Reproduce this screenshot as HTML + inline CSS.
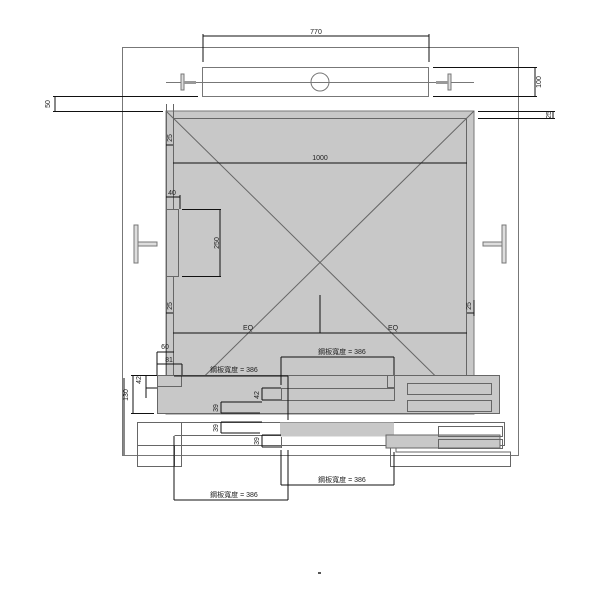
<!DOCTYPE html>
<html><head><style>body{margin:0;background:#fff}svg{display:block}</style></head><body>
<svg width="600" height="600" viewBox="0 0 600 600" xmlns="http://www.w3.org/2000/svg" font-family="Liberation Sans, Noto Sans CJK TC, sans-serif">
<g fill="none" stroke="#777" stroke-width="1">
<rect x="122.5" y="47.5" width="396" height="408"/>
</g>
<rect x="166" y="111" width="308" height="303" fill="#c8c8c8" stroke="#777"/>
<rect x="173.5" y="118.5" width="293" height="289" fill="none" stroke="#666"/>
<g stroke="#666" stroke-width="1" fill="none">
<line x1="166" y1="111" x2="474" y2="414"/>
<line x1="474" y1="111" x2="166" y2="414"/>
<line x1="166.5" y1="104" x2="166.5" y2="414"/>
<line x1="173.5" y1="104" x2="173.5" y2="414"/>
<rect x="166.5" y="209.5" width="12" height="67" fill="#c8c8c8"/>
</g>
<g stroke="#777" fill="none">
<rect x="202.5" y="67.5" width="226" height="29" fill="#fff"/>
<line x1="166" y1="82.5" x2="474" y2="82.5"/>
<circle cx="320" cy="82" r="9"/>
<rect x="181" y="74" width="3" height="16" fill="#ddd"/>
<rect x="184" y="81" width="12" height="3" fill="#999" stroke="none"/>
<rect x="448" y="74" width="3" height="16" fill="#ddd"/>
<rect x="436" y="81" width="12" height="3" fill="#999" stroke="none"/>
<rect x="134" y="225" width="4" height="38" fill="#ddd"/>
<rect x="138" y="242" width="19" height="4" fill="#ddd"/>
<rect x="502" y="225" width="4" height="38" fill="#ddd"/>
<rect x="483" y="242" width="19" height="4" fill="#ddd"/>
</g>
<g stroke="#666" fill="none">
<rect x="157.5" y="375.5" width="342" height="38" fill="#c8c8c8"/>
<rect x="157.5" y="375.5" width="24" height="11"/>
<rect x="281.5" y="388.5" width="113" height="12"/>
<rect x="387.5" y="375.5" width="7" height="12"/>
<rect x="407.5" y="383.5" width="84" height="11"/>
<rect x="407.5" y="400.5" width="84" height="11"/>
<rect x="137.5" y="422.5" width="367" height="23" fill="#fff"/>
<rect x="280" y="422.5" width="114" height="14" fill="#c8c8c8" stroke="none"/>
<rect x="386" y="435" width="114" height="13" fill="#c8c8c8"/>
<rect x="438.5" y="426.5" width="64" height="10"/>
<rect x="438.5" y="439.5" width="64" height="9"/>
<rect x="137.5" y="422.5" width="44" height="44" fill="none"/>
<rect x="174.5" y="445.5" width="7" height="21"/>
<polyline points="390.5,448 390.5,466.5 510.5,466.5 510.5,452 396,452 396,448"/>
<line x1="281.5" y1="437" x2="281.5" y2="448"/>
<line x1="174.5" y1="435.5" x2="281" y2="435.5"/>
</g>
<g stroke="#111" stroke-width="1" fill="none">
<path d="M203 36H429M203 34V62M429 34V62"/>
<path d="M433 67.5H537M433 96.5H537M535 67V97"/>
<path d="M53 96.5H198M53 111.5H163M55 96V112"/>
<path d="M478 111.5H555M478 118.5H555M553 111V119"/>
<path d="M173 163H467"/>
<path d="M166 145H173"/>
<path d="M166 197H180M180 195V209"/>
<path d="M182 209.5H221M182 276.5H221M220 209V277"/>
<path d="M166 313H173M467 313H474M474 300V316"/>
<path d="M173 333H467M320 295V333"/>
<path d="M157 352H174M157 352V375M157 364H182M182 364V375"/>
<path d="M131 375.5H157M131 413.5H154M133 375V414"/>
<path d="M146 375.5V398M146 388H157"/>
<path d="M281 357H394M281 357V385M394 357V375"/>
<path d="M174 376H288M288 376V420"/>
<path d="M262 388V400M262 388H281M262 400H281"/>
<path d="M221 402V413M221 402H262M221 413H260"/>
<path d="M221 422V433M221 422H262M221 433H260"/>
<path d="M262 435V447M262 435H281M262 447H281"/>
<path d="M281 485H394M281 450V485M394 452V485"/>
<path d="M174 500H288M174 436V500M288 450V500"/>
<path d="M124 455V378"/>
</g>
<g font-size="7" fill="#222" text-anchor="middle">
<text x="316" y="34">770</text>
<text x="320" y="160">1000</text>
<text x="248" y="330">EQ</text>
<text x="393" y="330">EQ</text>
<text x="342" y="354">鋼板寬度 = 386</text>
<text x="234" y="372">鋼板寬度 = 386</text>
<text x="342" y="482">鋼板寬度 = 386</text>
<text x="234" y="497">鋼板寬度 = 386</text>
<text x="172" y="195">40</text>
<text x="165" y="349">60</text>
<text x="169" y="362">81</text>
<text transform="translate(541,82) rotate(-90)">100</text>
<text transform="translate(50,104) rotate(-90)">50</text>
<text transform="translate(551,115) rotate(-90)">25</text>
<text transform="translate(172,138) rotate(-90)">25</text>
<text transform="translate(219,243) rotate(-90)">250</text>
<text transform="translate(172,306) rotate(-90)">25</text>
<text transform="translate(471,306) rotate(-90)">25</text>
<text transform="translate(141,380) rotate(-90)">42</text>
<text transform="translate(128,395) rotate(-90)">130</text>
<text transform="translate(259,395) rotate(-90)">42</text>
<text transform="translate(218,408) rotate(-90)">39</text>
<text transform="translate(218,428) rotate(-90)">39</text>
<text transform="translate(259,441) rotate(-90)">39</text>
</g>
<rect x="318" y="572" width="3" height="2" fill="#555"/>
</svg>
</body></html>
